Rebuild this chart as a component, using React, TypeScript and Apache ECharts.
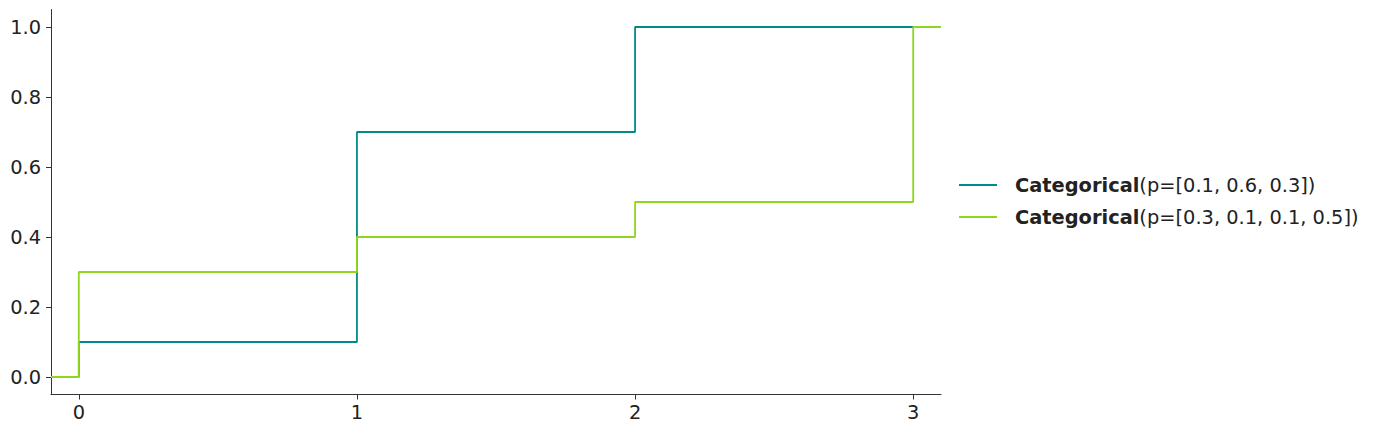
import { useEffect, useRef } from 'react'
import * as echarts from 'echarts'

// CDF step points for each distribution
const X1 = [-0.1, 0, 1, 2, 3]
const CDF1 = [0, 0.1, 0.7, 1.0, 1.0]
const X2 = [-0.1, 0, 1, 2, 3, 3.1]
const CDF2 = [0, 0.3, 0.4, 0.5, 1.0, 1.0]

const NAMES = ['Categorical(p=[0.1, 0.6, 0.3])', 'Categorical(p=[0.3, 0.1, 0.1, 0.5])']
const X_TICKS = [0, 1, 2, 3]
const Y_TICKS = [0, 0.2, 0.4, 0.6, 0.8, 1.0]

const COLORS = ['#008b8b', '#8fd71e']
const FONT = 'DejaVu Sans'
const FS = 19.4

export default function App() {
  const elRef = useRef<HTMLDivElement>(null)

  useEffect(() => {
    if (!elRef.current) return
    const chart = echarts.init(elRef.current, undefined, { renderer: 'svg' })
    const axisLine = { show: true, onZero: false, lineStyle: { color: '#333', width: 1 } }
    const series = [
      { x: X1, y: CDF1 },
      { x: X2, y: CDF2 },
    ].map((s, i) => ({
      name: NAMES[i],
      type: 'line',
      step: 'end',
      symbol: 'none',
      data: s.x.map((x, j) => [x, s.y[j]]),
      lineStyle: { color: COLORS[i], width: 1.8 },
      itemStyle: { color: COLORS[i] },
    }))

    chart.setOption({
      animation: false,
      backgroundColor: '#fff',
      textStyle: { fontFamily: FONT },
      grid: { left: 51, right: 436, top: 9.5, bottom: 38.5 },
      xAxis: {
        type: 'value',
        min: -0.1,
        max: 3.1,
        axisLine,
        splitLine: { show: false },
        axisTick: { show: true, length: 5, customValues: X_TICKS, lineStyle: { color: '#333' } },
        axisLabel: {
          customValues: X_TICKS,
          color: '#222',
          fontSize: FS,
          fontFamily: FONT,
          margin: 8,
          formatter: (v: number) => String(v),
        },
      },
      yAxis: {
        type: 'value',
        min: -0.05,
        max: 1.05,
        axisLine,
        splitLine: { show: false },
        axisTick: { show: true, length: 5, customValues: Y_TICKS, lineStyle: { color: '#333' } },
        axisLabel: {
          customValues: Y_TICKS,
          color: '#222',
          fontSize: FS,
          fontFamily: FONT,
          margin: 10,
          formatter: (v: number) => v.toFixed(1),
        },
      },
      legend: {
        orient: 'vertical',
        left: 959,
        top: 174,
        padding: 0,
        icon: 'rect',
        itemWidth: 38,
        itemHeight: 2,
        itemGap: 10,
        data: NAMES,
        formatter: (name: string) => {
          const k = name.indexOf('(')
          return `{s|}{b|${name.slice(0, k)}}{n|${name.slice(k)}}`
        },
        textStyle: {
          fontFamily: FONT,
          fontSize: FS,
          color: '#222',
          lineHeight: 22,
          rich: {
            s: { width: 13 },
            b: { fontWeight: 'bold', fontSize: FS, fontFamily: FONT, color: '#222' },
            n: { fontSize: FS, fontFamily: FONT, color: '#222' },
          },
        },
      },
      series,
    })
    return () => chart.dispose()
  }, [])

  return <div ref={elRef} style={{ width: 1377, height: 433, margin: -8 }} />
}
